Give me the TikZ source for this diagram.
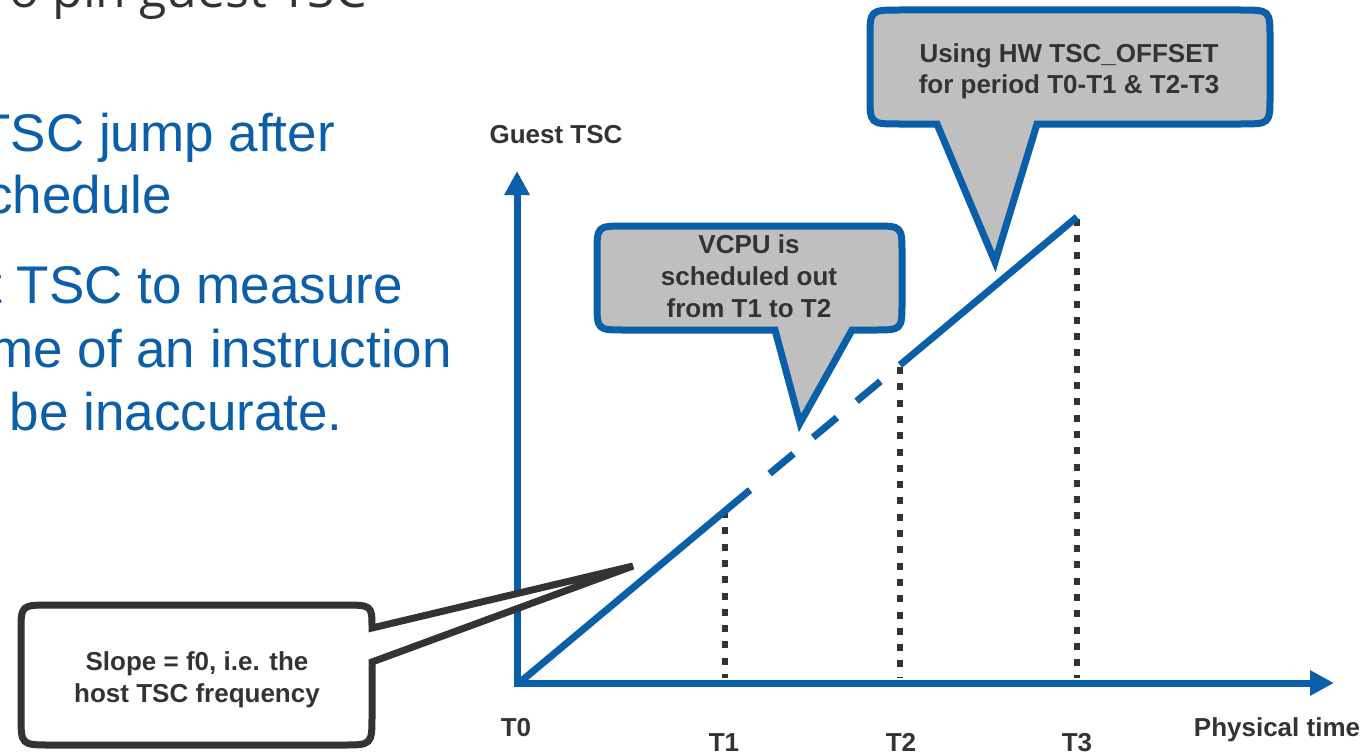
\documentclass[tikz,border=0pt]{standalone}
\usepackage{fontspec}
\setmainfont{Liberation Sans}
\newfontfamily\titlefont{Open Sans}
\usetikzlibrary{arrows.meta}
\definecolor{ibl}{HTML}{0B5EA8}
\definecolor{dk}{HTML}{333333}
\definecolor{cgray}{HTML}{BFBFBF}
\begin{document}
\begin{tikzpicture}[x=1pt,y=-1pt,
  lbl/.style={font=\fontsize{26}{30}\selectfont\bfseries, text=dk, inner sep=0pt, anchor=base},
  bluetxt/.style={font=\fontsize{53}{60}\selectfont, text=ibl, inner sep=0pt, anchor=base east},
  titletxt/.style={font=\titlefont\fontsize{50}{56}\selectfont, text=dk, inner sep=0pt, anchor=base east},
  axisline/.style={draw=ibl, line width=7pt, line join=miter},
  slopeline/.style={draw=ibl, line width=7pt},
  dotline/.style={draw=dk, line width=6.5pt, dash pattern=on 7pt off 9.3pt},
  bubble/.style={draw=ibl, fill=cgray, line width=7pt, line join=miter},
  wbubble/.style={draw=dk, fill=white, line width=7pt, line join=miter}]
\useasboundingbox (0,0) rectangle (1372,752);

% left text
\node[titletxt] (ttl) at (367,8) {o pin guest TSC};
\node[bluetxt] (b1) at (335,151) {TSC jump after};
\node[bluetxt] (b2) at (172,213) {chedule};
\node[bluetxt] (b3) at (403,303) {t TSC to measure};
\node[bluetxt] (b4) at (452,367) {me of an instruction};
\node[bluetxt] (b5) at (343,430) {be inaccurate.};

% axes
\coordinate (ytip) at (517,171);
\coordinate (xtip) at (1334,683);
\draw[axisline, {Triangle[length=24pt,width=24pt]}-{Triangle[length=24pt,width=24pt]}] (ytip) |- (xtip);

% dotted verticals
\coordinate (t1a) at (725,511); \coordinate (t1b) at (725,678);
\coordinate (t2a) at (900,367); \coordinate (t2b) at (900,678);
\coordinate (t3a) at (1077,219); \coordinate (t3b) at (1077,678);
\draw[dotline] (t1a) -- (t1b);
\draw[dotline] (t2a) -- (t2b);
\draw[dotline] (t3a) -- (t3b);

% slope line
\coordinate (s0) at (519,683);
\coordinate (s1) at (750,490);
\coordinate (s2) at (900,365);
\coordinate (s3) at (1077,217);
\draw[slopeline] (s0) -- (s1);
\draw[slopeline, dash pattern=on 31pt off 25.6pt, dash phase=31pt] (s1) -- (s2);
\draw[slopeline] (s2) -- (s3);

% top callout
\draw[bubble] (937,124) -- (995,262) -- (1037,124) -- (1240,124)
  .. controls (1270,124) .. (1270,96) -- (1270,38)
  .. controls (1270,10) .. (1240,10) -- (900,10)
  .. controls (870,10) .. (870,38) -- (870,96)
  .. controls (870,124) .. (900,124) -- cycle;
\node[lbl] (c1a) at (1069,63) {Using HW TSC\_OFFSET};
\node[lbl] (c1b) at (1069,93) {for period T0-T1 \& T2-T3};

% middle callout
\draw[bubble] (775,330) -- (800,423) -- (852,330) -- (874,330)
  .. controls (902,330) .. (902,302) -- (902,254)
  .. controls (902,226) .. (874,226) -- (625,226)
  .. controls (597,226) .. (597,254) -- (597,302)
  .. controls (597,330) .. (625,330) -- cycle;
\node[lbl] (c2a) at (749,253) {VCPU is};
\node[lbl] (c2b) at (749,285) {scheduled out};
\node[lbl] (c2c) at (749,317) {from T1 to T2};

% bottom-left callout
\draw[wbubble] (372,628) -- (633,566) -- (372,662) -- (372,715)
  .. controls (372,745) .. (342,745) -- (51,745)
  .. controls (21,745) .. (21,715) -- (21,632)
  .. controls (21,605) .. (51,605) -- (342,605)
  .. controls (372,605) .. cycle;
\node[lbl] (c3a) at (197,670) {Slope = f0, i.e. the};
\node[lbl] (c3b) at (197,702) {host TSC frequency};

% axis labels
\node[lbl] (gtsc) at (556,143) {Guest TSC};
\node[lbl] (l0) at (516,736) {T0};
\node[lbl] (l1) at (724,751) {T1};
\node[lbl] (l2) at (901,751) {T2};
\node[lbl] (l3) at (1077,751) {T3};
\node[lbl] (ptime) at (1277,736) {Physical time};
\end{tikzpicture}
\end{document}
